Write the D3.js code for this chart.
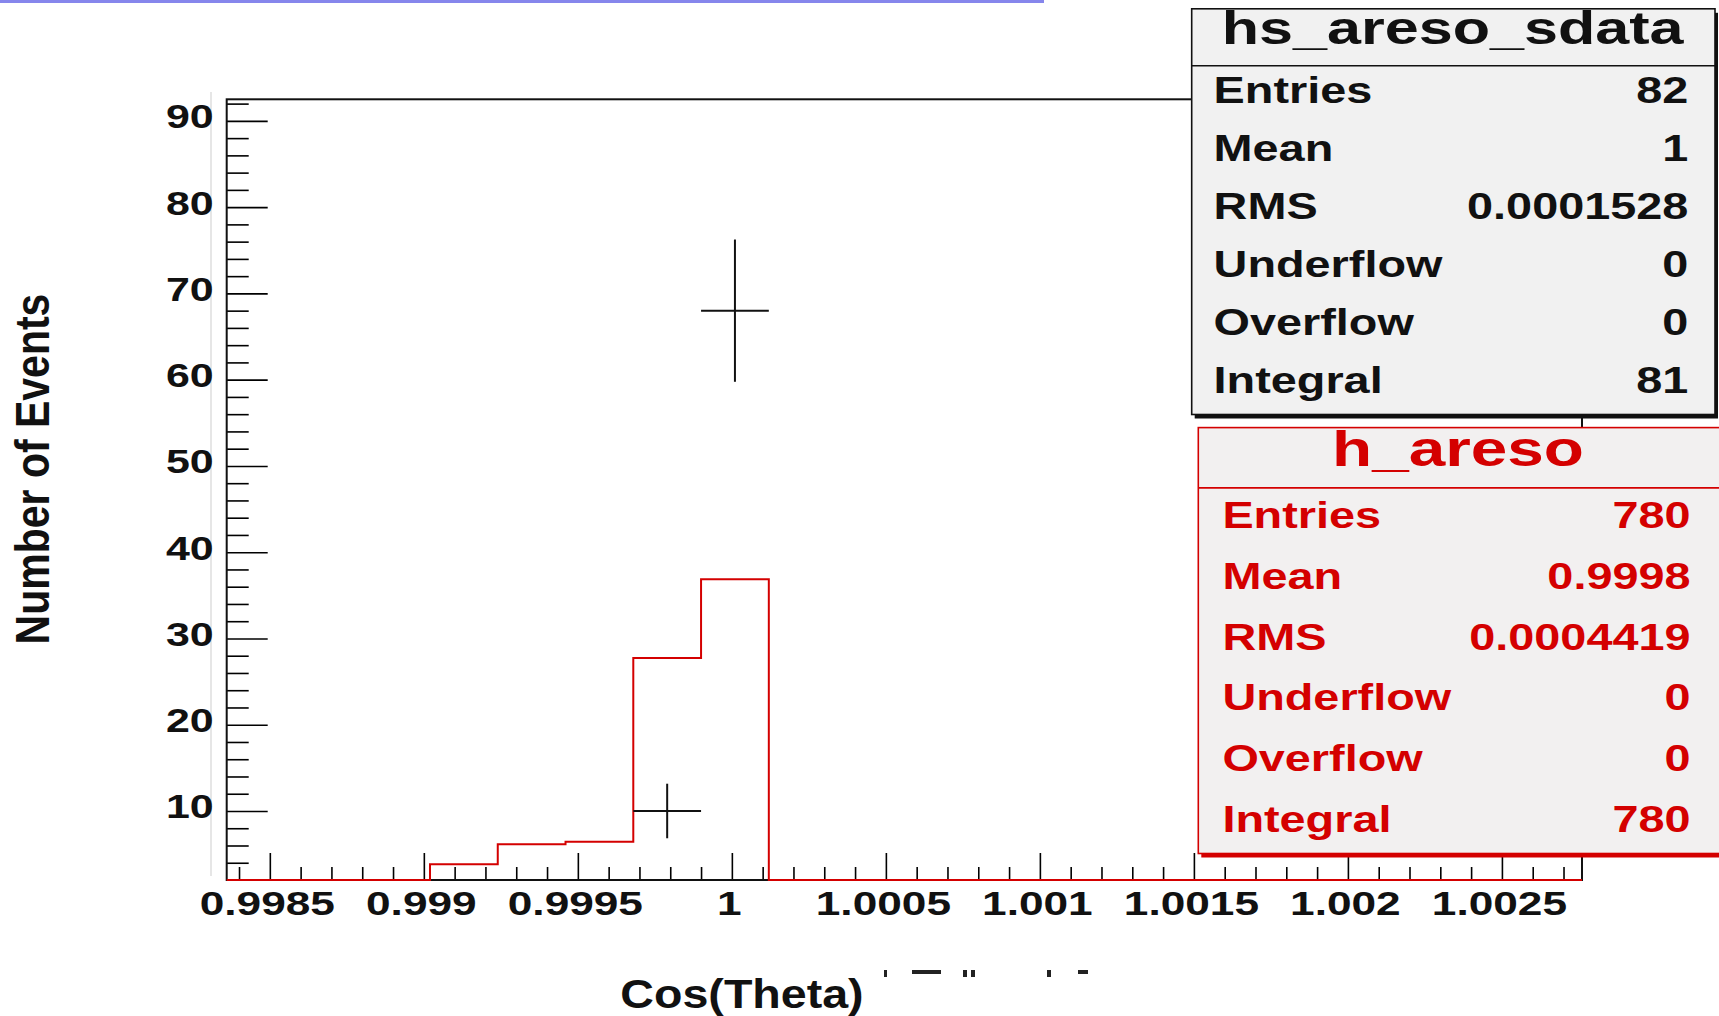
<!DOCTYPE html>
<html>
<head>
<meta charset="utf-8">
<script src="https://cdn.jsdelivr.net/npm/d3@7"></script>
<style>
  html, body { margin: 0; padding: 0; background: #fff; }
  svg { display: block; }
  text { font-family: "Liberation Sans", Arial, Helvetica, sans-serif; font-weight: bold; }
</style>
</head>
<body>
<svg id="chart" width="1719" height="1016"></svg>
<script>
// ---- binning shared by both histograms (20 equal bins over the axis range)
const xRange = [0.99836, 1.00276];
const nBins = 20;
const yRange = [2, 92.5];

// h_areso (simulation), normalised to the data integral
const aresoValues = [0, 0, 0, 3.84, 6.13, 6.44, 27.73, 36.87, 0, 0,
                     0, 0, 0, 0, 0, 0, 0, 0, 0, 0];

// hs_areso_sdata (data): visible bins and their counts
const sdataBins = [6, 7];
const sdataCounts = [10, 68];

// axis ticks
const xMajorTicks = [0.9985, 0.999, 0.9995, 1, 1.0005, 1.001, 1.0015, 1.002, 1.0025];
const xTickLabels = ["0.9985", "0.999", "0.9995", "1", "1.0005", "1.001", "1.0015", "1.002", "1.0025"];
const yMajorTicks = [10, 20, 30, 40, 50, 60, 70, 80, 90];
const yTickLabels = ["10", "20", "30", "40", "50", "60", "70", "80", "90"];

// statistics boxes
const statNames = ["Entries", "Mean", "RMS", "Underflow", "Overflow", "Integral"];
const sdataStatValues = ["82", "1", "0.0001528", "0", "0", "81"];
const aresoStatValues = ["780", "0.9998", "0.0004419", "0", "0", "780"];

const RED = "#d40000";
const svg = d3.select("#chart");

// frame geometry
const frame = { left: 226.7, right: 1582, top: 99.3, bottom: 880 };
const x = d3.scaleLinear().domain(xRange).range([frame.left, frame.right]);
const y = d3.scaleLinear().domain(yRange).range([frame.bottom, frame.top]);
const binW = (xRange[1] - xRange[0]) / nBins;
const edges = d3.range(nBins + 1).map(i => xRange[0] + i * binW);

// text drawn with a horizontal stretch around its anchor
function stretchText(parent, px, py, str, size, sx, anchor, fill) {
  return parent.append("text")
    .attr("transform", `translate(${px},${py}) scale(${sx},1)`)
    .attr("text-anchor", anchor)
    .attr("font-size", size)
    .attr("fill", fill || "#111")
    .text(str);
}

// canvas decorations
svg.append("rect").attr("x", 0).attr("y", 0).attr("width", 1719).attr("height", 1016).attr("fill", "#fff");
svg.append("rect").attr("x", 0).attr("y", 0).attr("width", 1044).attr("height", 3).attr("fill", "#8686ec");
svg.append("line").attr("x1", 211).attr("x2", 211).attr("y1", 92).attr("y2", 876)
  .attr("stroke", "#e6e6e6").attr("stroke-width", 2);

// frame background
svg.append("rect")
  .attr("x", frame.left).attr("y", frame.top)
  .attr("width", frame.right - frame.left).attr("height", frame.bottom - frame.top)
  .attr("fill", "#fff");

// ---- y axis (ticks point into the frame)
const yMinor = d3.range(4, 93, 2).filter(v => v % 10 !== 0);
const gyMinor = svg.append("g").attr("transform", `translate(${frame.left},0)`)
  .call(d3.axisLeft(y).tickValues(yMinor).tickFormat("").tickSizeInner(-22).tickSizeOuter(0));
gyMinor.select(".domain").remove();
gyMinor.selectAll("line").attr("stroke", "#000").attr("stroke-width", 1.6);

const gy = svg.append("g").attr("transform", `translate(${frame.left},0)`)
  .call(d3.axisLeft(y).tickValues(yMajorTicks)
    .tickFormat(d => yTickLabels[yMajorTicks.indexOf(d)])
    .tickSizeInner(-41).tickSizeOuter(0));
gy.attr("font-family", null).attr("font-size", null);
gy.select(".domain").remove();
gy.selectAll("line").attr("stroke", "#000").attr("stroke-width", 1.6);
gy.selectAll("text")
  .attr("x", null).attr("dy", null)
  .attr("transform", "translate(-13,7) scale(1.3,1)")
  .attr("font-size", 33).attr("fill", "#111").attr("text-anchor", "end");

// ---- x axis (ticks point up into the frame)
const xMinor = d3.range(0, 44).map(i => +(0.9984 + i * 0.0001).toFixed(4))
  .filter(v => !xMajorTicks.some(t => Math.abs(t - v) < 1e-7) && v <= xRange[1]);
const gxMinor = svg.append("g").attr("transform", `translate(0,${frame.bottom})`)
  .call(d3.axisBottom(x).tickValues(xMinor).tickFormat("").tickSizeInner(-13).tickSizeOuter(0));
gxMinor.select(".domain").remove();
gxMinor.selectAll("line").attr("stroke", "#000").attr("stroke-width", 1.6);

const gx = svg.append("g").attr("transform", `translate(0,${frame.bottom})`)
  .call(d3.axisBottom(x).tickValues(xMajorTicks)
    .tickFormat(d => xTickLabels[xMajorTicks.indexOf(d)])
    .tickSizeInner(-27).tickSizeOuter(0));
gx.attr("font-family", null).attr("font-size", null);
gx.select(".domain").remove();
gx.selectAll("line").attr("stroke", "#000").attr("stroke-width", 1.6);
gx.selectAll("text")
  .attr("y", null).attr("dy", null)
  .attr("transform", "translate(-3,35) scale(1.3,1)")
  .attr("font-size", 34).attr("fill", "#111").attr("text-anchor", "middle");

// frame outline
svg.append("rect")
  .attr("x", frame.left).attr("y", frame.top)
  .attr("width", frame.right - frame.left).attr("height", frame.bottom - frame.top)
  .attr("fill", "none").attr("stroke", "#111").attr("stroke-width", 2);

// ---- h_areso step outline (values below the axis minimum sit on the frame bottom)
const stepPts = aresoValues.map((v, i) => [edges[i], v]);
stepPts.push([edges[nBins], aresoValues[nBins - 1]]);
const stepLine = d3.line()
  .x(d => x(d[0]))
  .y(d => y(Math.max(d[1], yRange[0])))
  .curve(d3.curveStepAfter);
svg.append("path")
  .datum(stepPts)
  .attr("d", stepLine)
  .attr("fill", "none")
  .attr("stroke", RED)
  .attr("stroke-width", 2);

// ---- hs_areso_sdata points with bin-width and sqrt(N) error bars
const pts = sdataBins.map((b, i) => ({ lo: edges[b], hi: edges[b + 1], n: sdataCounts[i] }));
const gp = svg.append("g").attr("stroke", "#111").attr("stroke-width", 2);
pts.forEach(p => {
  const cx = x((p.lo + p.hi) / 2), e = Math.sqrt(p.n);
  gp.append("line").attr("x1", x(p.lo)).attr("x2", x(p.hi)).attr("y1", y(p.n)).attr("y2", y(p.n));
  gp.append("line").attr("x1", cx).attr("x2", cx).attr("y1", y(p.n - e)).attr("y2", y(p.n + e));
});

// ---- axis titles
stretchText(svg, 742, 1008, "Cos(Theta)", 40, 1.165, "middle", "#111");
svg.append("text")
  .attr("transform", "translate(49,469) scale(1.15,1) rotate(-90)")
  .attr("text-anchor", "middle")
  .attr("font-size", 41)
  .attr("fill", "#111")
  .text("Number of Events");

// clipped remnants of a second title line beside the x title
const gFrag = svg.append("g").attr("fill", "#222");
[[884, 3], [912, 29], [963, 4], [971, 4], [1047, 4], [1078, 10]].forEach(([fx, fw]) => {
  gFrag.append("rect").attr("x", fx).attr("y", 970).attr("width", fw).attr("height", fw > 5 ? 4 : 7);
});

// ---- statistics boxes
function statBox(o) {
  const g = svg.append("g");
  g.append("rect").attr("x", o.x0 + 3).attr("y", o.y0 + 4)
    .attr("width", o.x1 - o.x0).attr("height", o.y1 - o.y0).attr("fill", o.color);
  g.append("rect").attr("x", o.x0).attr("y", o.y0)
    .attr("width", o.x1 - o.x0).attr("height", o.y1 - o.y0)
    .attr("fill", o.fill).attr("stroke", o.color).attr("stroke-width", 1.6);
  g.append("line").attr("x1", o.x0).attr("x2", o.x1).attr("y1", o.sep).attr("y2", o.sep)
    .attr("stroke", o.color).attr("stroke-width", 1.6);
  stretchText(g, o.titleX, o.titleY, o.title, o.titleSize, o.titleSx, "middle", o.color);
  statNames.forEach((name, i) => {
    const by = o.row0 + i * o.rowStep + 12.9;
    stretchText(g, o.labelX, by, name, 36, 1.3, "start", o.color);
    stretchText(g, o.valueX, by, o.values[i], 36, 1.3, "end", o.color);
  });
}

statBox({
  x0: 1191.7, x1: 1715, y0: 8.8, y1: 414.5, sep: 65.8, color: "#111", fill: "#f1f1f1",
  title: "hs_areso_sdata", titleX: 1452.6, titleY: 44, titleSize: 47, titleSx: 1.3,
  row0: 89.9, rowStep: 58.1, labelX: 1213.6, valueX: 1688.3, values: sdataStatValues
});
statBox({
  x0: 1198.3, x1: 1725, y0: 427.6, y1: 853.5, sep: 487.9, color: RED, fill: "#f2f0f0",
  title: "h_areso", titleX: 1458, titleY: 466, titleSize: 50, titleSx: 1.314,
  row0: 515.3, rowStep: 60.7, labelX: 1222.4, valueX: 1690.5, values: aresoStatValues
});
</script>
</body>
</html>
